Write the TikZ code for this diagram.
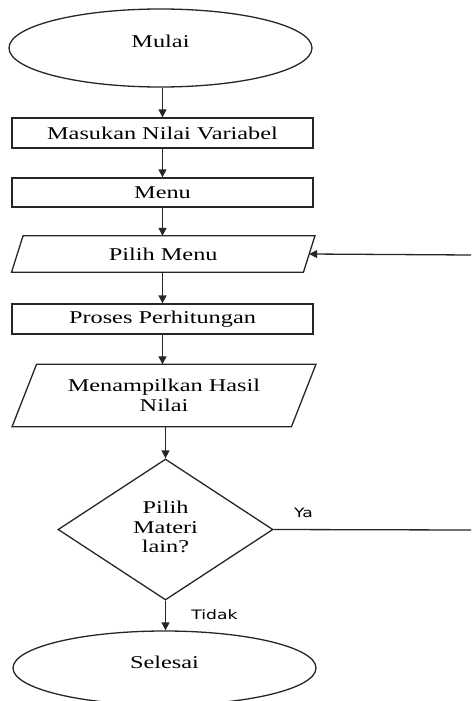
\documentclass[tikz,border=0pt]{standalone}
\usepackage{fontspec}
\setmainfont[FakeStretch=1.35]{Liberation Serif}
\newfontfamily\labelfont[FakeStretch=1.32]{DejaVu Sans}
\usetikzlibrary{shapes.geometric,arrows.meta}
\begin{document}
\begin{tikzpicture}[x=1pt,y=-1pt,
  every node/.style={font=\fontsize{18}{19.5}\selectfont, inner sep=2pt},
  line/.style={draw=black!85, line width=1.3pt},
  arr/.style={line, -{Triangle[length=8pt,width=8pt]}},
  terminal/.style={ellipse, draw=black!85, line width=1.3pt, minimum width=303pt, inner sep=0pt, text height=12pt, text depth=12pt},
  procbox/.style={rectangle, draw=black!85, line width=1.3pt, minimum width=301pt},
  iobox/.style={rectangle, draw=none},
  decision/.style={diamond, draw=black!85, line width=1.3pt, aspect=1.52, minimum width=215pt, minimum height=141pt, align=center},
  lbl/.style={font=\labelfont\fontsize{13}{14}\selectfont, inner sep=0pt}
]
\useasboundingbox (0,0) rectangle (471,701);

\node[terminal, minimum height=78pt] (mulai) at (160.5,48) {Mulai};
\node[procbox, minimum height=30pt] (input) at (162.5,133) {Masukan Nilai Variabel};
\node[procbox, minimum height=29pt] (menu) at (162.5,192.5) {Menu};
\node[iobox, minimum width=291.5pt, minimum height=36pt] (pilih) at (163.25,254) {Pilih Menu};
\draw[line] ([xshift=-5.75pt]pilih.south west) -- ([xshift=5.75pt]pilih.north west) -- ([xshift=5.75pt]pilih.north east) -- ([xshift=-5.75pt]pilih.south east) -- cycle;
\node[procbox, minimum height=30pt] (proses) at (162.5,319) {Proses Perhitungan};
\node[iobox, minimum width=279pt, minimum height=62pt, align=center] (hasil) at (164,395.5) {Menampilkan Hasil\\Nilai};
\draw[line] ([xshift=-12.25pt]hasil.south west) -- ([xshift=12.25pt]hasil.north west) -- ([xshift=12.25pt]hasil.north east) -- ([xshift=-12.25pt]hasil.south east) -- cycle;
\node[decision] (dec) at (165.5,529.5) {\raisebox{4pt}{\begin{tabular}{@{}c@{}}Pilih\\Materi\\lain?\end{tabular}}};
\node[terminal, minimum height=74pt] (selesai) at (164.5,668) {Selesai};

\coordinate (loopin) at (471,255);
\coordinate (loopout) at (471,530);

\draw[arr] (input.north |- mulai.south) -- (input.north);
\draw[arr] (input.south) -- (menu.north);
\draw[arr] (menu.south) -- (menu.south |- pilih.north);
\draw[arr] (proses.north |- pilih.south) -- (proses.north);
\draw[arr] (proses.south) -- (proses.south |- hasil.north);
\draw[arr] (dec.north |- hasil.south) -- (dec.north);
\draw[arr] (dec.south) -- (dec.south |- selesai.north);
\draw[line] (dec.east) -- (loopout);
\draw[arr] (loopin) -- (pilih.east);

\node[lbl] (ya) at (303.5,512.5) {Ya};
\node[lbl] (tidak) at (214.5,615) {Tidak};
\end{tikzpicture}
\end{document}
